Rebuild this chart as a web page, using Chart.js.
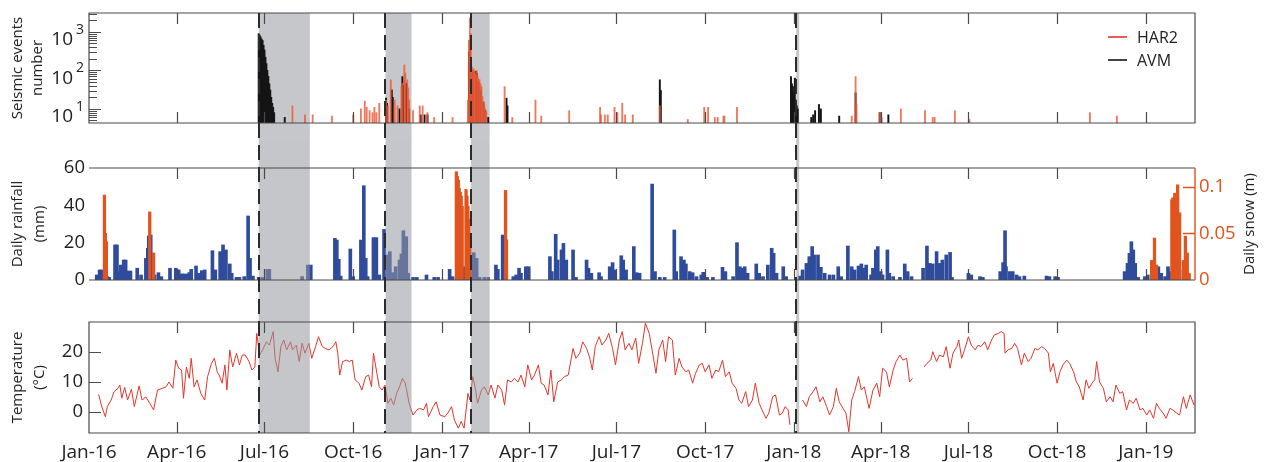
<!DOCTYPE html>
<html>
<head>
<meta charset="utf-8">
<script src="https://cdn.jsdelivr.net/npm/chart.js@4.4.0/dist/chart.umd.min.js"></script>
<style>
  body { margin: 0; background: #fff; }
  #wrap { position: relative; width: 1265px; height: 462px; }
  canvas { position: absolute; left: 0; }
</style>
</head>
<body>
<div id="wrap">
  <canvas id="seis" width="1265" height="140" style="top:0px"></canvas>
  <canvas id="rain" width="1265" height="160" style="top:140px"></canvas>
  <canvas id="temp" width="1265" height="162" style="top:300px"></canvas>
</div>
<script>
// x values are days since 1 Jan 2016
var tickDays = [0, 91, 182, 274, 366, 456, 547, 639, 731, 821, 912, 1004, 1096];
var tickLabels = ['Jan-16', 'Apr-16', 'Jul-16', 'Oct-16', 'Jan-17', 'Apr-17', 'Jul-17', 'Oct-17', 'Jan-18', 'Apr-18', 'Jul-18', 'Oct-18', 'Jan-19'];

// shaded periods and dashed event lines
var bandFrom = [176, 307.5, 396, 733.5];
var bandTo = [229, 334.5, 415.5, 736.5];
var eventDays = [176, 307, 396, 733];

// seismic events per day
var har2Day = [211, 224, 232, 252, 274, 282, 286, 288, 291, 294, 296, 298, 301, 308, 310, 313, 317, 320, 324, 325, 327, 328, 330, 331, 332, 336, 343, 346, 351, 358, 377,
  393, 394, 395, 396, 397, 398, 399, 400, 401, 402, 403, 404, 405, 406, 407, 408, 409, 410, 411, 412, 431, 439, 463, 469, 498, 530, 531, 535, 538, 545, 548, 553, 556, 564,
  592, 621, 638, 642, 649, 652, 658, 659, 672, 791, 795, 796, 820, 822, 842, 867, 875, 877, 898, 913, 1038, 1066];
var har2Count = [12, 7, 7, 6.5, 7, 10, 16, 11, 9, 8, 11, 8, 14, 17, 12, 57, 17, 12, 38, 46, 139, 85, 57, 35, 17, 9, 12, 12, 8, 6, 6,
  17, 610, 2300, 900, 126, 103, 110, 93, 80, 100, 69, 60, 57, 45, 38, 21, 15, 12, 10, 8, 38, 6, 17, 6.5, 9, 11, 7, 7, 7, 11, 8, 14, 7, 7,
  12, 5.3, 11, 11, 6, 6, 6.5, 6.5, 11, 6.5, 69, 13, 8, 6, 10, 9, 6, 6, 9, 5.3, 8, 6.5];

var avmDay = [176, 177, 178, 179, 180, 181, 182, 183, 184, 185, 186, 187, 188, 189, 190, 191, 192, 203, 308, 309, 314, 315, 322, 325, 326, 329, 332, 344, 348, 351,
  394, 395, 396, 398, 401, 402, 404, 406, 409, 411, 414, 433, 434, 592, 593, 728, 729, 730, 731, 732, 733, 734, 735, 749, 751, 753, 757, 759, 778, 795, 820, 829];
var avmCount = [900, 820, 740, 650, 600, 450, 340, 220, 150, 100, 70, 45, 31, 20, 14, 11, 8, 6, 19, 14, 31, 20, 10, 69, 40, 46, 10, 7, 7, 7,
  300, 600, 200, 90, 95, 85, 50, 30, 15, 9, 6, 19, 12, 57, 30, 69, 45, 38, 25, 63, 17, 12, 10, 6, 7, 9, 13, 10, 6.5, 26, 8, 7];

// daily rainfall (mm)
var rainDay = [8, 11, 13, 19, 21, 27, 29, 31, 33, 36, 38, 40, 43, 50, 54, 59, 61, 62, 64, 68, 72, 75, 84, 90, 93, 95, 97, 99, 102, 104, 106, 111, 114, 117, 120,
  128, 131, 136, 139, 142, 146, 148, 153, 156, 161, 165, 167, 170, 176, 180, 185, 187, 221, 227, 230, 255, 257, 259, 261, 271, 274, 282, 285, 287, 289, 295, 298,
  301, 306, 310, 312, 315, 318, 322, 324, 326, 329, 331, 336, 340, 350, 358, 362, 374, 377, 389, 396, 399, 402, 405, 410, 414, 422, 424, 429, 430, 440, 443, 446,
  448, 453, 456, 478, 480, 484, 486, 490, 492, 495, 502, 505, 516, 518, 521, 529, 531, 540, 543, 545, 552, 554, 557, 565, 568, 571, 584, 587, 592, 597, 607, 609,
  614, 617, 619, 623, 626, 630, 635, 637, 641, 647, 657, 660, 668, 672, 675, 677, 680, 683, 692, 695, 699, 704, 708, 710, 713, 720, 723, 737, 740, 744, 747, 750,
  752, 756, 759, 763, 768, 772, 777, 780, 787, 791, 794, 798, 801, 803, 806, 811, 813, 816, 818, 821, 823, 828, 830, 834, 841, 846, 849, 853, 865, 869, 872, 875,
  879, 882, 885, 889, 893, 895, 912, 915, 924, 927, 945, 948, 950, 951, 955, 958, 962, 965, 970, 993, 996, 1002, 1005, 1074, 1077, 1079, 1081, 1083, 1085, 1088,
  1095, 1098, 1109, 1112, 1116, 1119, 1122, 1124, 1125, 1127, 1129, 1131];
var rainMm = [2.7, 5.4, 5.4, 1.8, 1.4, 18.8, 18.8, 4.5, 8, 10.7, 10.7, 4.8, 4.8, 6.3, 2.7, 11.6, 17, 23.6, 24.1, 2.7, 3.9, 1.8, 6.3, 6.3, 5.4, 3.2, 3.2, 3.2, 3.2, 4, 5.7, 7.5, 3.6, 5, 5.4,
  15.7, 5.4, 15.2, 18.8, 16.1, 8.6, 3.6, 1.4, 1.4, 1.8, 34.3, 11.6, 2.1, 1.4, 1.4, 5.7, 5.7, 1.8, 8, 8, 22.3, 21.4, 11.1, 2.1, 16.6, 1.8, 21.4, 50.5, 11.6, 1.8, 22.7, 22.7,
  2.7, 27.1, 13.4, 15.2, 3.9, 7.1, 10.7, 13.9, 26.4, 23.2, 3.6, 1.4, 1.4, 2.7, 1.4, 1.4, 5.7, 1.8, 7.1, 12.5, 14.6, 11.6, 1.4, 1.4, 1.4, 8, 5.7, 24.1, 21.4, 1.8, 2.7, 6.3,
  3.6, 7.1, 7.1, 12.5, 4.5, 24.5, 10.7, 16.1, 19.6, 10.7, 16.1, 1.4, 10.7, 6.3, 3.6, 3.9, 1.8, 7.1, 9.3, 5.4, 13, 10.7, 5.4, 17.9, 3.9, 3.6, 51.4, 4.5, 1.4, 1.4, 26.8, 4.5,
  12.5, 10.7, 8.6, 4.5, 3.9, 1.8, 2.7, 4.1, 1.4, 1.4, 6.8, 4.5, 1.8, 20, 7.1, 6.3, 7.1, 3.6, 8.6, 3.6, 1.8, 8, 17, 14.3, 3.6, 7.1, 1.8, 2.1, 5.4, 8.9, 12.5, 17.9,
  13.4, 13.4, 6.8, 3.6, 2.7, 2.7, 7.1, 1.8, 18.2, 7.1, 5.4, 7.5, 8.6, 6.3, 8, 2.7, 6.3, 16.1, 17.9, 4.5, 2.7, 16.1, 3.6, 1.8, 1.4, 8.6, 4.5, 1.8, 6.3, 18.2, 8.9, 8.6,
  15.2, 8.9, 10.7, 13.4, 14.8, 1.4, 3.6, 2.7, 1.8, 1.4, 4.5, 9.3, 26.4, 7.1, 4.5, 4.5, 2.7, 1.8, 2.1, 2.1, 1.8, 1.8, 1.4, 4.5, 8.9, 14.3, 20.5, 16.1, 8.9, 1.4,
  1.8, 2.7, 7.1, 3.6, 1.8, 7.1, 4.5, 42, 42.9, 42.5, 21.4, 5.4];

// daily snow (m)
var snowDay = [16, 17, 18, 63, 67, 381, 382, 383, 384, 385, 386, 387, 391, 392, 393, 394, 395, 432, 433, 1102, 1105, 1107, 1123, 1124, 1126, 1127, 1129, 1131, 1135, 1137, 1139, 1141];
var snowM = [0.091, 0.05, 0.041, 0.073, 0.029, 0.116, 0.111, 0.107, 0.098, 0.094, 0.09, 0.079, 0.097, 0.09, 0.079, 0.065, 0.05, 0.096, 0.043, 0.021, 0.045, 0.016, 0.086, 0.088, 0.093, 0.084, 0.102, 0.072, 0.021, 0.047, 0.029, 0.007];

// air temperature (degC), null = missing
var tempDay = [10, 13, 17, 19, 23, 26, 30, 32, 34, 37, 40, 44, 47, 52, 55, 59, 63, 67, 71, 76, 80, 83, 87, 90, 93, 96, 98, 101, 104, 106, 109, 112, 116, 120, 123, 127,
  130, 133, 135, 138, 141, 143, 146, 149, 153, 156, 159, 162, 166, 169, 172, 174, 177, 180, 184, 187, 191, 193, 196, 199, 202, 205, 209, 211, 215, 218, 221, 224,
  228, 231, 235, 238, 242, 245, 249, 253, 256, 258, 260, 263, 267, 270, 273, 276, 280, 283, 287, 290, 293, 295, 298, 301, 304, 307, 310, 313, 316, 319, 322, 325,
  328, 332, 336, 340, 343, 347, 350, 352, 357, 360, 364, 369, 372, 376, 379, 383, 386, 389, 393, 395, 398, 401, 403, 407, 410, 414, 417, 421, 424, 428, 431, 434,
  438, 441, 445, 448, 452, 455, 459, 462, 466, 469, 472, 476, 479, 482, 486, 490, 493, 497, 502, 505, 509, 512, 516, 519, 522, 525, 529, 532, 536, 539, 543, 546,
  550, 553, 556, 560, 563, 567, 570, 574, 577, 581, 584, 588, 591, 595, 598, 601, 605, 608, 612, 615, 619, 622, 626, 629, 633, 636, 639, 643, 646, 650, 653, 657,
  660, 664, 667, 671, 674, 677, 681, 684, 688, 691, 695, 698, 702, 705, 709, 712, 716, 719, 722, 725, 727, 733, 740, 744, 747, 751, 754, 758, 761, 765, 768, 772,
  775, 778, 782, 785, 788, 791, 794, 798, 801, 804, 809, 813, 817, 820, 823, 827, 830, 834, 837, 841, 844, 848, 851, 854, 860, 866, 869, 873, 875, 879, 882, 886,
  889, 893, 896, 900, 902, 905, 908, 912, 915, 919, 922, 925, 929, 932, 936, 939, 943, 946, 949, 950, 953, 957, 960, 963, 967, 970, 974, 977, 981, 984, 988, 991,
  995, 997, 1000, 1004, 1007, 1010, 1014, 1017, 1021, 1024, 1027, 1031, 1034, 1037, 1041, 1043, 1045, 1048, 1052, 1055, 1059, 1062, 1065, 1069, 1072, 1076, 1079,
  1083, 1086, 1090, 1093, 1097, 1100, 1104, 1107, 1110, 1114, 1117, 1121, 1124, 1128, 1131, 1135, 1138, 1142, 1146];
var tempC = [5.9, 2, -1.6, 1.8, 4, 6.8, 7.9, 9, 4.6, 8.2, 4, 7.6, 1.8, 8.7, 4, 5, 2.9, 0.7, 7.3, 7.9, 8.4, 10, 7.9, 17.3, 14.6, 14, 4.6, 15, 11.2, 17.9, 8.4, 10.7, 6.2, 4, 11.8, 16.2,
  17.9, 13.4, 12.3, 9.6, 15.7, 7.3, 20.7, 15, 19.6, 15.7, 19, 19, 16.8, 14, 15, 26.2, 19, 20.7, 23.4, 22.3, 26.8, 17.9, 13.4, 21.8, 24, 20.7, 23.4, 20.7, 22.3, 16.8, 22.9, 19.6,
  22.9, 17.9, 21.8, 25.1, 21.8, 21.2, 20.7, 21.8, 23.4, 19.6, 12.3, 16.8, 17.3, 16.8, 17.3, 10.7, 9.6, 7.3, 11.8, 12.3, 8.4, 19.6, 14, 8.4, 7.3, 9, 2.9, 4.6, 2.3, 6.2, 8.4, 11.2,
  9.6, 2.9, -1, 0.7, 1.2, 0.7, 2.9, -1.6, 1.8, 3.4, -1, -1.6, -0.4, 1.8, -2.7, -5.4, -3.2, -5.4, 6.2, 4, 11.8, 7.3, 2.9, 7.3, 8.4, 5.7, 9, 4.6, 9, 7.3, 2.3, 10.7,
  10, 11.2, 10, 12.3, 8.4, 15.7, 10.7, 12.3, 15.7, 9.6, 9, 5.7, 14, 3.4, 10, 10.7, 11.8, 12.3, 21.2, 17.9, 19.6, 23.4, 21.2, 18.4, 14, 21.8, 25.1, 22.3, 24, 26.2, 21.2, 15.7,
  24, 26.8, 20.7, 22.9, 20.7, 24.6, 16.2, 22.9, 29.6, 26.2, 20.7, 12.9, 20.7, 24, 16.8, 25.1, 24, 12.3, 17.9, 15, 13.4, 14, 9.6, 12.9, 15.7, 16.2, 13.4, 15.7, 11.2, 14, 13.4, 17.3,
  11.8, 13.4, 9.6, 7.9, 4, 2.9, 6.8, 1.8, 4, 9.6, 2.9, 0.7, -2.1, -0.4, 5.1, 5.7, -1, -0.4, 1.8, 0.7, -4.3, null, 4, 1.8, 5.1, 6.8, 8.4, 3.4, 5.1, 1.8, -1, 1.8,
  7.9, 3.4, 1.2, -0.4, -6.6, 4, 6.8, 11.8, 7.3, 8.4, 1.2, 7.3, 9.6, 5.1, 14.6, 13.4, 8.4, 14, 16.8, 19, 17.3, 17.9, 10, 11.2, null, 15, 16.2, 17.3, 20.1, 16.8, 19, 18.4,
  21.8, 14.6, 19.6, 21.8, 24, 17.9, 20.7, 25.1, 22.3, 20.7, 22.3, 21.8, 23.4, 20.7, 24, 25.7, 26.2, 26.8, 26.2, 19.6, 20.7, 21.2, 22.9, 21.2, 15.7, 19.6, 16.8, 17.9, 21.2, 20.7, 21.8, 21.2,
  19.6, 13.4, 16.2, 9.6, 13.4, 15.7, 17.3, 16.2, 13.4, 10, 8.4, 4, 10.7, 7.9, 10, 10.7, 16.8, 10, 7.9, 3.4, 5.1, 3.4, 9, 6.2, 6.8, 0.7, 4,
  2.9, 4.6, 0.7, 1.2, -1, 0.7, -2.1, 2.9, 1.2, -0.4, -2.1, 1.2, 0.7, -0.4, -1, 5.1, 1.2, 5.7, 2.3];

var FONT = "'Open Sans', sans-serif";
var INK = '#222';
var FRAME = '#4a4a4a';
var ORANGE = '#e2531d';
var BAND = 'rgba(150,152,158,0.55)';
Chart.defaults.font.family = FONT;
Chart.defaults.color = INK;

function pts(xs, ys) {
  return xs.map(function (d, i) { return { x: d, y: ys[i] }; });
}

function fixedTicks(list) {
  return function (scale) {
    scale.ticks = list.map(function (v) { return { value: v }; });
  };
}

function xAxis(show) {
  var ax = {
    type: 'linear', min: 0, max: 1147, offset: false, display: show,
    grid: { display: false, drawTicks: false, offset: false },
    border: { display: false },
    afterBuildTicks: fixedTicks(tickDays),
    ticks: {
      autoSkip: false, maxRotation: 0, padding: 8, color: INK, font: { size: 19 },
      callback: function (v) { return tickLabels[tickDays.indexOf(v)]; }
    }
  };
  if (show) ax.afterFit = function (s) { s.height = 29; };
  return ax;
}

function leftTitle(lines) {
  return { display: true, text: lines, color: INK, font: { size: 15, lineHeight: 1.45 }, padding: { top: 7 } };
}

function bandRange(chart, o) {
  var a = chart.chartArea;
  return [o.bandTop === 'area' ? a.top : 0, o.bandBottom === 'area' ? a.bottom : chart.height];
}

function drawBands(chart, o) {
  var ctx = chart.ctx, x = chart.scales.x, r = bandRange(chart, o);
  ctx.save();
  ctx.fillStyle = o.bandUnder ? '#c5c7ca' : BAND;
  bandFrom.forEach(function (s, i) {
    var l = x.getPixelForValue(s), rr = x.getPixelForValue(bandTo[i]);
    ctx.fillRect(l, r[0], rr - l, r[1] - r[0]);
  });
  ctx.restore();
}

// bands, dashed lines, frames, inward ticks and the extra texts
var panelPlugin = {
  id: 'panel',
  beforeDatasetsDraw: function (chart, args, o) {
    if (o.bandUnder) drawBands(chart, o);
  },
  afterDatasetsDraw: function (chart, args, o) {
    var ctx = chart.ctx, a = chart.chartArea, x = chart.scales.x;
    if (!o.bandUnder) drawBands(chart, o);
    var r = bandRange(chart, o), y0 = r[0], y1 = r[1];
    ctx.save();

    ctx.strokeStyle = FRAME;
    ctx.lineWidth = 1.2;
    ctx.beginPath();
    if (o.frame === 'box') {
      ctx.rect(a.left, a.top, a.right - a.left, a.bottom - a.top);
    } else {
      ctx.moveTo(a.left, a.top); ctx.lineTo(a.right, a.top);
      ctx.moveTo(a.left, a.bottom); ctx.lineTo(a.right, a.bottom);
    }
    tickDays.forEach(function (d) {
      if (d === 0) return;
      var px = Math.round(x.getPixelForValue(d)) + 0.5;
      ctx.moveTo(px, a.top); ctx.lineTo(px, a.top + 11);
      ctx.moveTo(px, a.bottom); ctx.lineTo(px, a.bottom - 11);
    });
    if (o.yTicks) {
      o.yTicks.forEach(function (v) {
        var py = Math.round(chart.scales.y.getPixelForValue(v)) + 0.5;
        ctx.moveTo(a.left, py); ctx.lineTo(a.left + 12, py);
      });
    }
    ctx.stroke();

    ctx.strokeStyle = '#2b2b2b';
    ctx.lineWidth = 2;
    ctx.setLineDash([15, 7]);
    ctx.lineDashOffset = o.pageTop + y0 - 13;
    eventDays.forEach(function (d) {
      var px = Math.round(x.getPixelForValue(d));
      ctx.beginPath(); ctx.moveTo(px, y0); ctx.lineTo(px, y1); ctx.stroke();
    });
    ctx.setLineDash([]);

    if (o.log) {
      var ys = chart.scales.y;
      ctx.strokeStyle = FRAME; ctx.lineWidth = 1;
      ctx.beginPath();
      for (var e = 0; e <= 3; e++) {
        for (var m = 1; m <= 9; m++) {
          var v = m * Math.pow(10, e);
          if (v < ys.min || v > ys.max) continue;
          var py = Math.round(ys.getPixelForValue(v)) + 0.5;
          ctx.moveTo(a.left, py); ctx.lineTo(a.left + (m === 1 ? 12 : 8), py);
        }
      }
      ctx.stroke();
      ctx.fillStyle = INK;
      ctx.textBaseline = 'middle';
      for (var k = 1; k <= 3; k++) {
        var ty = ys.getPixelForValue(Math.pow(10, k));
        ctx.font = '19px ' + FONT; ctx.textAlign = 'right';
        ctx.fillText('10', a.left - 16, ty + 8);
        ctx.font = '14px ' + FONT; ctx.textAlign = 'left';
        ctx.fillText(String(k), a.left - 13, ty - 2);
      }
    }

    if (o.legend) {
      ctx.font = '16px ' + FONT;
      ctx.textAlign = 'left'; ctx.textBaseline = 'middle';
      chart.data.datasets.forEach(function (ds, i) {
        var ly = a.top + 24 + i * 23;
        ctx.strokeStyle = ds.legendColor; ctx.lineWidth = 1.6;
        ctx.beginPath(); ctx.moveTo(a.right - 87, ly); ctx.lineTo(a.right - 68, ly); ctx.stroke();
        ctx.fillStyle = INK;
        ctx.fillText(ds.label, a.right - 58, ly + 1);
      });
    }

    if (o.snowAxis) {
      var ys2 = chart.scales.y2;
      ctx.strokeStyle = ORANGE; ctx.lineWidth = 1.4;
      ctx.beginPath();
      ctx.moveTo(a.right, a.top); ctx.lineTo(a.right, a.bottom);
      [0.05, 0.1].forEach(function (v) {
        var py = Math.round(ys2.getPixelForValue(v)) + 0.5;
        ctx.moveTo(a.right, py); ctx.lineTo(a.right - 12, py);
      });
      ctx.stroke();
      ctx.save();
      ctx.translate(a.right + 55, (a.top + a.bottom) / 2);
      ctx.rotate(-Math.PI / 2);
      ctx.font = '15px ' + FONT; ctx.fillStyle = INK;
      ctx.textAlign = 'center'; ctx.textBaseline = 'middle';
      ctx.fillText('Daily snow (m)', 0, 0);
      ctx.restore();
    }
    ctx.restore();
  }
};

var common = { responsive: false, animation: false, devicePixelRatio: 1 };

new Chart(document.getElementById('seis'), {
  type: 'bar',
  data: {
    datasets: [
      { label: 'HAR2', data: pts(har2Day, har2Count), backgroundColor: 'rgba(236,88,52,0.8)', legendColor: '#e3322a', barThickness: 1.2, grouped: false },
      { label: 'AVM', data: pts(avmDay, avmCount), backgroundColor: '#151515', legendColor: '#151515', barThickness: 1.3, grouped: false }
    ]
  },
  options: Object.assign({}, common, {
    layout: { padding: { top: 13, bottom: 17, left: 0, right: 70 } },
    plugins: {
      legend: { display: false }, tooltip: { enabled: false },
      panel: { pageTop: 0, bandTop: 'area', bandBottom: 'canvas', bandUnder: true, frame: 'box', log: true, legend: true }
    },
    scales: {
      x: xAxis(false),
      y: {
        type: 'logarithmic', min: 4.3, max: 3100,
        grid: { display: false, drawTicks: false }, border: { display: false },
        ticks: { display: false },
        title: { display: true, text: ['Seismic events', 'number'], color: INK, font: { size: 15, lineHeight: 1.3 }, padding: { top: 8 } },
        afterFit: function (s) { s.width = 89; }
      }
    }
  }),
  plugins: [panelPlugin]
});

new Chart(document.getElementById('rain'), {
  type: 'bar',
  data: {
    datasets: [
      { label: 'Daily snow', data: pts(snowDay, snowM), yAxisID: 'y2', backgroundColor: ORANGE, barThickness: 2.6, grouped: false },
      { label: 'Daily rainfall', data: pts(rainDay, rainMm), yAxisID: 'y', backgroundColor: '#2f4c9c', barThickness: 3, grouped: false }
    ]
  },
  options: Object.assign({}, common, {
    layout: { padding: { top: 28, bottom: 20, left: 0, right: 0 } },
    plugins: {
      legend: { display: false }, tooltip: { enabled: false },
      panel: { pageTop: 140, bandTop: 'canvas', bandBottom: 'canvas', frame: 'open', snowAxis: true }
    },
    scales: {
      x: xAxis(false),
      y: {
        position: 'left', min: 0, max: 60,
        grid: { display: false, drawTicks: false }, border: { display: false },
        afterBuildTicks: fixedTicks([0, 20, 40, 60]),
        ticks: { padding: 4, color: INK, font: { size: 18.5 } },
        title: leftTitle(['Daily rainfall', '(mm)']),
        afterFit: function (s) { s.width = 89; }
      },
      y2: {
        position: 'right', min: 0, max: 0.12,
        grid: { display: false, drawTicks: false }, border: { display: false },
        afterBuildTicks: fixedTicks([0, 0.05, 0.1]),
        ticks: { padding: 4, color: ORANGE, font: { size: 18.5 }, callback: function (v) { return String(v); } },
        afterFit: function (s) { s.width = 70; }
      }
    }
  }),
  plugins: [panelPlugin]
});

new Chart(document.getElementById('temp'), {
  type: 'line',
  data: {
    datasets: [
      { label: 'Temperature', data: pts(tempDay, tempC), borderColor: '#e3352b', borderWidth: 1, pointRadius: 0, tension: 0, spanGaps: false }
    ]
  },
  options: Object.assign({}, common, {
    layout: { padding: { top: 22, bottom: 0, left: 0, right: 70 } },
    plugins: {
      legend: { display: false }, tooltip: { enabled: false },
      panel: { pageTop: 300, bandTop: 'canvas', bandBottom: 'area', frame: 'box', yTicks: [0, 10, 20] }
    },
    scales: {
      x: xAxis(true),
      y: {
        min: -7, max: 30,
        grid: { display: false, drawTicks: false }, border: { display: false },
        afterBuildTicks: fixedTicks([0, 10, 20]),
        ticks: { padding: 6, color: INK, font: { size: 18.5 } },
        title: leftTitle(['Temperature', '(°C)']),
        afterFit: function (s) { s.width = 89; }
      }
    }
  }),
  plugins: [panelPlugin]
});
</script>
</body>
</html>
